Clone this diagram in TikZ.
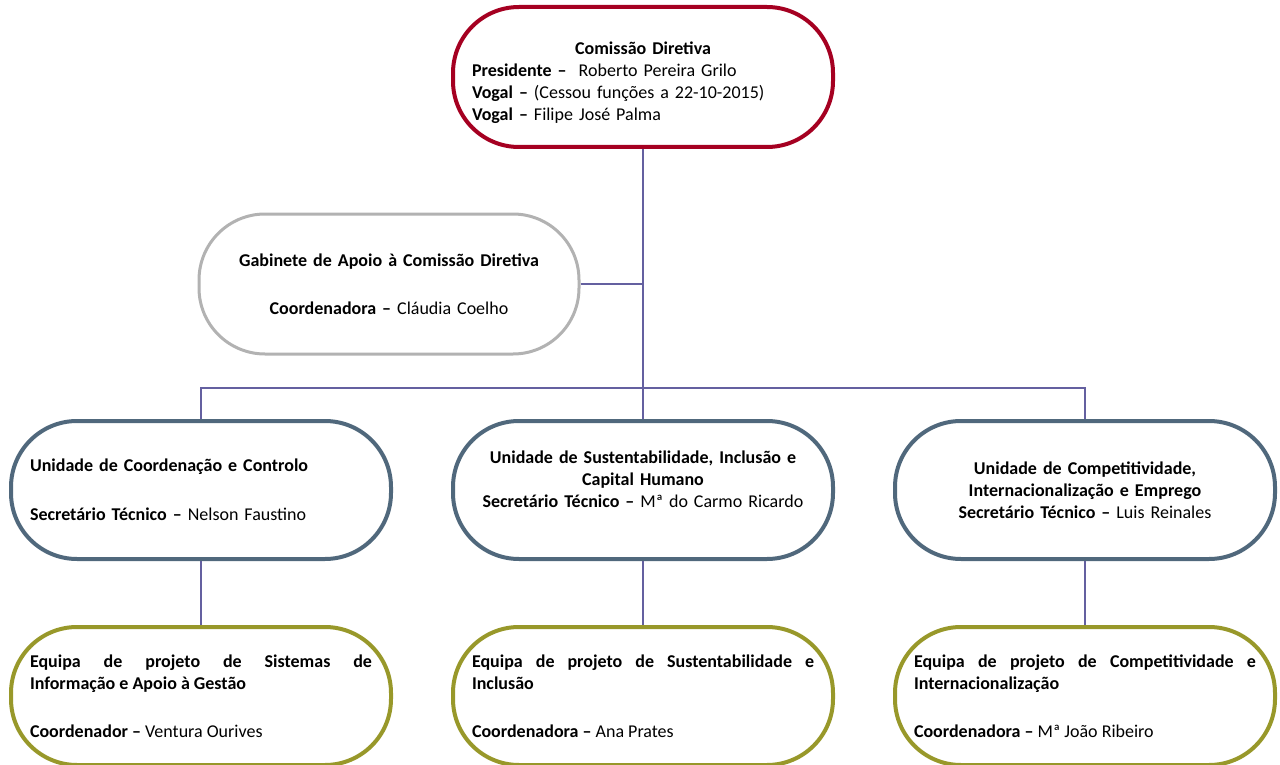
\documentclass[tikz,border=0pt]{standalone}
\usepackage{fontspec}
\setmainfont{Carlito}
\usetikzlibrary{positioning}
\definecolor{cdred}{RGB}{165,0,33}
\definecolor{gabgray}{RGB}{178,178,178}
\definecolor{unitblue}{RGB}{80,104,124}
\definecolor{teamolive}{RGB}{152,152,42}
\definecolor{linkpurple}{RGB}{100,96,160}
\tikzset{
    x=1pt, y=-1pt, % picture measured in pixels, y grows downwards
    box/.style={draw, fill=white, rectangle, rounded corners=66pt, line width=4pt,
        minimum width=380pt, minimum height=138pt, text width=342pt, inner sep=0pt,
        font=\fontsize{18}{22}\selectfont}, % the oval boxes
    comissao/.style={box, draw=cdred, minimum height=140pt, align=left},
    gabinete/.style={box, draw=gabgray, line width=3pt, minimum height=140pt, align=center},
    unidade/.style={box, draw=unitblue},
    equipa/.style={box, draw=teamolive, align=justify},
    link/.style={draw=linkpurple, line width=2pt}, % the connectors
    node distance=413pt,
}
\begin{document}
\begin{tikzpicture}
\useasboundingbox (0,0) rectangle (1280,765);
\node[comissao] (cd) at (643,77) {\rule{0pt}{25pt}\hfill\textbf{Comissão Diretiva}\hfill\null\\
    \textbf{Presidente –}\ \ Roberto Pereira Grilo\\
    \textbf{Vogal –} (Cessou funções a 22-10-2015)\\
    \textbf{Vogal –} Filipe José Palma};
\node[gabinete] (gab) at (389,284) {\textbf{Gabinete de Apoio à Comissão Diretiva}\\[26pt]
    \textbf{Coordenadora –} Cláudia Coelho};
\node[unidade, align=center, below of=cd] (u2) {\textbf{Unidade de Sustentabilidade, Inclusão e}\\
    \textbf{Capital Humano}\\
    \textbf{Secretário Técnico –} Mª do Carmo Ricardo\\ \mbox{}};
\node[unidade, align=left, left of=u2, node distance=442pt] (u1) {\textbf{Unidade de Coordenação e Controlo}\\[27pt]
    \textbf{Secretário Técnico –} Nelson Faustino};
\node[unidade, align=center, right of=u2, node distance=442pt] (u3) {\textbf{Unidade de Competitividade,}\\
    \textbf{Internacionalização e Emprego}\\
    \textbf{Secretário Técnico –} Luis Reinales};
\node[equipa, below of=u1, node distance=206pt] (e1) {\textbf{Equipa de projeto de Sistemas de\linebreak
    Informação e Apoio à Gestão}\\[26pt]
    \textbf{Coordenador –} Ventura Ourives};
\node[equipa, below of=u2, node distance=206pt] (e2) {\textbf{Equipa de projeto de Sustentabilidade e\linebreak
    Inclusão}\\[26pt]
    \textbf{Coordenadora –} Ana Prates};
\node[equipa, below of=u3, node distance=206pt] (e3) {\textbf{Equipa de projeto de Competitividade e\linebreak
    Internacionalização}\\[26pt]
    \textbf{Coordenadora –} Mª João Ribeiro};
\coordinate (bus) at (643,388);
\path[link] (cd) -- (u2)
    (gab.east) -- (gab.east -| cd.south)
    (u1.north) |- (bus) -| (u3.north)
    (u1) -- (e1)
    (u2) -- (e2)
    (u3) -- (e3);
\end{tikzpicture}
\end{document}
